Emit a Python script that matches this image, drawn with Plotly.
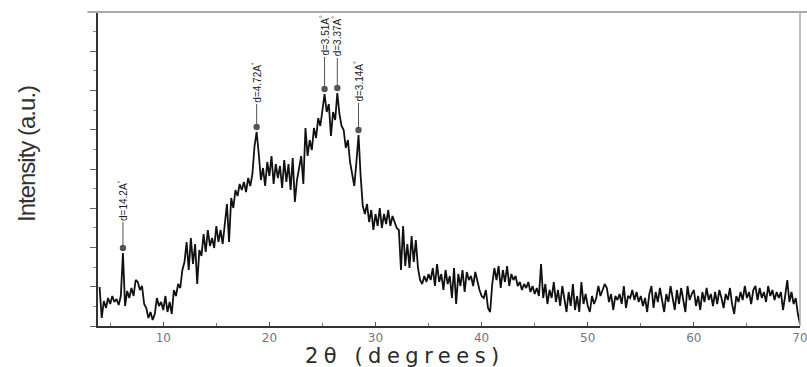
import numpy as np
import plotly.graph_objects as go

# 2-theta grid (degrees), 0.2 step
two_theta = np.round(np.arange(4.0, 70.0001, 0.2), 1)

intensity = [
    39, 8, 25, 18, 28,   22, 30, 24, 27, 21,   30, 73, 20, 35, 28,
    38, 30, 46, 44, 36,  40, 22, 18, 8, 14,    6, 12, 28, 20, 24,
    16, 30, 14, 24, 12,  36, 30, 42, 38, 56,   64, 84, 56, 88, 62,
    82, 42, 76, 70, 92,  74, 96, 80, 88, 78,   100, 84, 96, 82, 106,
    122, 84, 128, 118, 136,  130, 142, 136, 144, 134,  148, 140, 152, 180, 194,
    172, 146, 158, 140, 164,  150, 170, 142, 162, 148,  160, 138, 166, 144, 162,
    136, 168, 124, 146, 158,  170, 142, 198, 170, 186,  176, 198, 188, 208, 200,
    218, 232, 214, 222, 190,  214, 206, 233, 212, 200,  196, 178, 186, 164, 152,
    140, 164, 191, 150, 120,  112, 122, 104, 116, 96,   112, 100, 118, 98, 112,
    102, 116, 100, 110, 104,  98, 96, 56, 100, 60,      82, 58, 90, 64, 86,
    58, 46, 42, 50, 44,   52, 46, 58, 40, 62,   44, 52, 36, 56, 42,
    50, 28, 58, 22, 52,   40, 56, 34, 54, 46,   50, 40, 54, 44, 36,
    30, 28, 36, 18, 14,   42, 58, 46, 60, 38,   56, 44, 60, 40, 52,
    46, 50, 40, 44, 36,   42, 38, 44, 34, 40,   32, 38, 30, 62, 28,
    42, 22, 36, 28, 44,   24, 36, 20, 40, 26,   14, 34, 20, 42, 16,
    30, 14, 44, 22, 32,   20, 14, 30, 22, 28,   40, 30, 36, 42, 38,
    24, 32, 16, 30, 26,   32, 22, 40, 18, 30,   28, 36, 26, 34, 24,
    30, 20, 28, 14, 32,   40, 18, 34, 24, 38,   26, 14, 32, 24, 40,
    28, 16, 36, 22, 38,   24, 14, 40, 26, 32,   36, 20, 30, 16, 34,
    24, 38, 26, 32, 20,   34, 22, 36, 28, 18,   32, 26, 38, 22, 12,
    30, 24, 34, 26, 40,   28, 34, 22, 36, 40,   26, 38, 28, 34, 24,
    40, 30, 36, 26, 34,   28, 34, 16, 30, 46,   24, 34, 22, 28, 12,
    2,
]

peak_positions = [6.2, 18.8, 25.2, 26.4, 28.4]
peak_labels = ["d=14.2A<sup>°</sup>", "d=4.72A<sup>°</sup>", "d=3.51A<sup>°</sup>",
               "d=3.37A<sup>°</sup>", "d=3.14A<sup>°</sup>"]
label_offsets = [-53, -50, -59, -57, -54]

x_ticks = [10, 20, 30, 40, 50, 60, 70]
x_minor = [5, 15, 25, 35, 45, 55, 65]

y = np.array(intensity, dtype=float)

fig = go.Figure()
fig.add_trace(go.Scatter(x=two_theta, y=y, mode="lines",
                         line=dict(color="#111111", width=1.8), showlegend=False))

narrow = "Liberation Sans, Arial, sans-serif"

for px, lab, off in zip(peak_positions, peak_labels, label_offsets):
    idx = int(np.argmin(np.abs(two_theta - px)))
    fig.add_annotation(x=two_theta[idx], y=y[idx], text=lab, textangle=-90,
                       showarrow=True, ax=0, ay=off, arrowhead=6, arrowsize=1.6,
                       arrowwidth=1, arrowcolor="#555555", standoff=5,
                       font=dict(family=narrow, size=10, color="#222222"))

fig.add_annotation(xref="paper", yref="paper", x=-0.101, y=0.548,
                   xanchor="center", yanchor="middle",
                   text='<span style="letter-spacing:-1px">Intensity (a.u.)</span>',
                   textangle=-90, showarrow=False,
                   font=dict(family=narrow, size=24, color="#333333"))

fig.add_annotation(xref="paper", yref="paper", x=0.437, y=-0.094,
                   xanchor="center", yanchor="middle",
                   text='<span style="letter-spacing:5.5px">2θ (degrees)</span>',
                   showarrow=False,
                   font=dict(family="DejaVu Sans", size=21, color="#2a2a2a"))

fig.update_layout(
    width=807, height=367,
    margin=dict(l=98, r=7, t=12, b=41),
    paper_bgcolor="white", plot_bgcolor="white",
    xaxis=dict(range=[3.85, 70], tickvals=x_ticks, ticks="inside", ticklen=4,
               tickcolor="#555", tickwidth=1, automargin=False,
               ticklabeloverflow="allow",
               minor=dict(tickvals=x_minor, ticks="inside",
                          ticklen=3, tickcolor="#777"),
               showline=True, linecolor="#333333", linewidth=2,
               showgrid=False, zeroline=False,
               tickfont=dict(family="DejaVu Sans", size=12, color="#777777")),
    yaxis=dict(range=[0, 314], tick0=0, dtick=39.25, ticks="outside", ticklen=6,
               tickcolor="#666", tickwidth=1, automargin=False,
               minor=dict(dtick=19.625, ticks="outside", ticklen=3, tickcolor="#888"),
               showticklabels=False, showline=True, linecolor="#333333", linewidth=2,
               showgrid=False, zeroline=False),
)

fig.add_shape(type="line", xref="paper", yref="paper", x0=-0.015, x1=1.01, y0=1, y1=1,
              line=dict(color="#aaaaaa", width=2))
fig.add_shape(type="line", xref="paper", yref="paper", x0=1, x1=1, y0=0, y1=1,
              line=dict(color="#aaaaaa", width=1.5))

fig.write_html("out.html", config={"displayModeBar": False},
               post_script="document.body.style.margin='0';document.body.style.overflow='hidden';")
